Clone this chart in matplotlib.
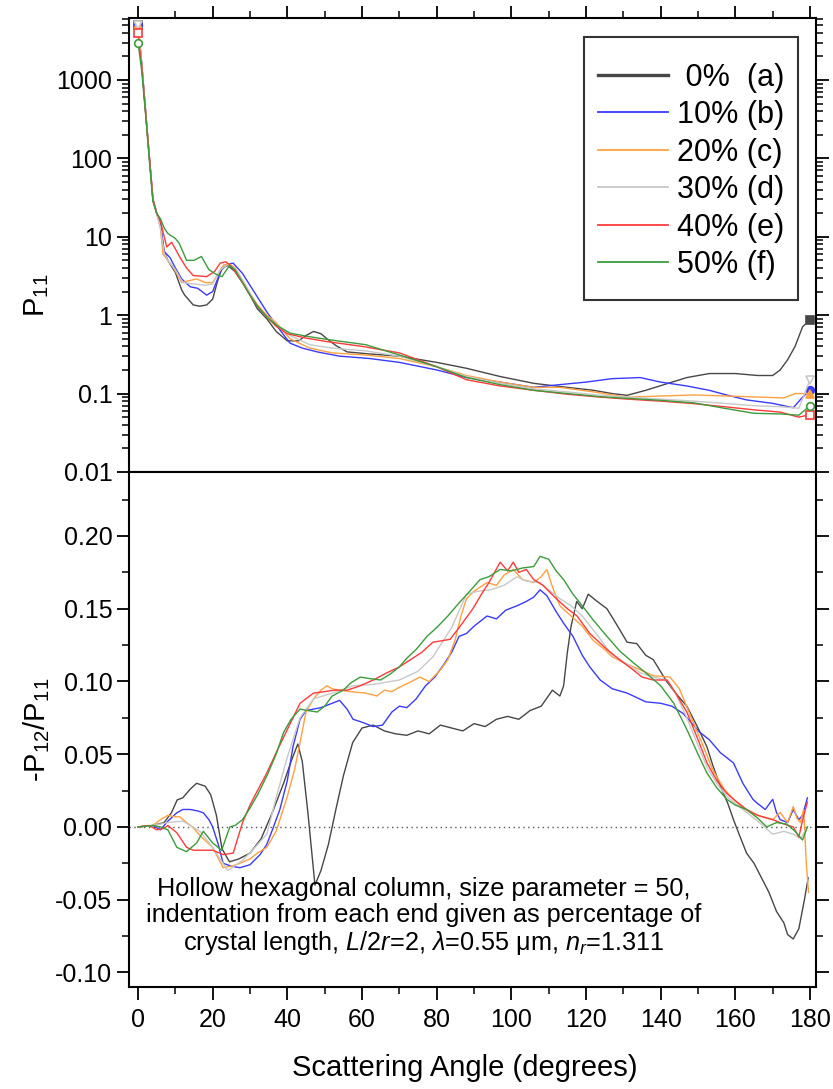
import matplotlib
matplotlib.use('Agg')
import matplotlib.pyplot as plt
from matplotlib.ticker import MultipleLocator, LogLocator, NullFormatter, FuncFormatter, FormatStrFormatter
from matplotlib.lines import Line2D
from matplotlib.patches import Rectangle

plt.rcParams['font.family'] = ['Liberation Sans', 'DejaVu Sans']
plt.rcParams['mathtext.fontset'] = 'custom'
plt.rcParams['mathtext.rm'] = 'Liberation Sans'
plt.rcParams['mathtext.it'] = 'Liberation Sans:italic'

labels = [' 0%  (a)', '10% (b)', '20% (c)', '30% (d)', '40% (e)', '50% (f)']
colors = ['#474747', '#3a3aff', '#ffa040', '#c8c8c8', '#ff3a3a', '#3c9c3c']
markers = ['s', 'o', '^', 'v', 's', 'o']
filled = [True, True, True, False, False, False]

# ---- P11 (log scale), one angle list per indentation ----
p11_ang_a = [0, 1, 2, 3, 4, 5, 6, 7, 8, 10, 11.7, 12.5, 14.8, 16.5, 18.4, 20, 21.2, 22.4, 24, 26, 28, 30, 32,
             34.5, 37, 40, 43, 45, 47, 49, 50.6, 53, 56, 62, 70, 80, 88, 97, 106, 115, 122, 127, 131, 136, 142,
             147, 153, 160, 166, 170, 172, 174, 176, 178, 180]
p11_a = [5000, 1600, 420, 110, 30, 20, 15, 6.5, 5.0, 3.5, 2.1, 1.8, 1.35, 1.3, 1.35, 1.6, 2.6, 4.0, 4.3, 3.6,
         2.6, 1.8, 1.2, 0.9, 0.62, 0.47, 0.47, 0.55, 0.62, 0.58, 0.5, 0.41, 0.34, 0.32, 0.3, 0.25, 0.21, 0.165,
         0.135, 0.12, 0.11, 0.1, 0.095, 0.11, 0.135, 0.16, 0.18, 0.18, 0.17, 0.17, 0.2, 0.27, 0.4, 0.71, 0.87]

p11_ang_b = [0, 1, 2, 3, 4, 5, 6, 7, 8.6, 10, 11.7, 14, 16, 18.4, 20, 21.2, 22.4, 24, 25.5, 28, 30, 32, 34.5,
             37, 40.7, 44, 48, 54, 62, 70, 80, 88, 97, 106, 113, 120, 127, 134.5, 140, 147, 153, 158, 163, 170,
             175.5, 178, 180]
p11_b = [5000, 1600, 420, 110, 30, 20, 14, 6.5, 5.4, 4.0, 2.9, 2.3, 2.2, 1.8, 2.0, 2.8, 3.8, 4.5, 4.6, 3.4,
         2.4, 1.7, 1.1, 0.75, 0.44, 0.38, 0.34, 0.3, 0.28, 0.25, 0.2, 0.16, 0.14, 0.12, 0.13, 0.14, 0.155, 0.16,
         0.14, 0.125, 0.11, 0.095, 0.083, 0.075, 0.066, 0.09, 0.11]

p11_ang_c = [0, 1, 2, 3, 4, 5, 6, 6.7, 8, 9.4, 11.7, 13, 15.7, 18, 20, 21.5, 23, 24.5, 26, 28, 30, 32, 34.5, 37,
             40.7, 46, 52, 61, 70, 80, 88, 97, 106, 113, 122, 131, 140, 149, 158, 167, 173, 176, 180]
p11_c = [5000, 1600, 420, 110, 30, 20, 13, 6, 5, 4.1, 2.6, 2.7, 2.9, 2.6, 2.6, 3.4, 4.4, 4.5, 4.0, 2.8, 1.9,
         1.35, 1.0, 0.8, 0.5, 0.38, 0.33, 0.31, 0.28, 0.22, 0.17, 0.14, 0.12, 0.12, 0.105, 0.09, 0.093, 0.096,
         0.093, 0.09, 0.088, 0.1, 0.1]

p11_ang_d = [0, 1, 2, 3, 4, 5, 6, 7, 8, 10, 12, 15, 18, 20, 22, 24, 26, 28, 30, 32, 34.5, 37, 40.7, 46, 52, 61,
             70, 80, 88, 97, 106, 115, 124, 131, 140, 149, 157, 165, 172, 177, 180]
p11_d = [5000, 1600, 420, 110, 30, 20, 13, 6.2, 5.0, 3.8, 2.6, 2.5, 2.4, 2.5, 3.8, 4.4, 3.9, 2.8, 1.9, 1.3,
         0.95, 0.75, 0.55, 0.42, 0.38, 0.35, 0.3, 0.22, 0.165, 0.135, 0.115, 0.105, 0.095, 0.09, 0.085, 0.08,
         0.075, 0.07, 0.068, 0.065, 0.15]

p11_ang_e = [0, 1, 2, 3, 4, 5, 6, 6.8, 7.7, 9, 10, 11.2, 13, 14.8, 18.4, 20.5, 22, 23.5, 25, 28, 30, 32, 34.5,
             37, 40, 45, 50.6, 60, 70, 80, 88, 97, 106, 115, 124, 131, 140, 148, 157, 165, 172, 177, 180]
p11_e = [4000, 1500, 400, 110, 30, 20, 16, 11, 7.4, 8.5, 7, 5.5, 4, 3.2, 3.1, 3.6, 4.6, 4.8, 4.2, 2.6, 1.8,
         1.3, 0.95, 0.72, 0.58, 0.51, 0.46, 0.4, 0.33, 0.22, 0.15, 0.125, 0.11, 0.098, 0.09, 0.085, 0.08, 0.075,
         0.068, 0.062, 0.058, 0.05, 0.054]

p11_ang_f = [0, 1, 2, 3, 4, 5, 6, 7, 8, 10, 11, 12, 13, 15, 17, 19, 21, 22.5, 24.5, 26, 28, 30, 32, 34.5, 37,
             40.7, 46, 52, 61, 70, 80, 88, 97, 106, 115, 124, 131, 140, 149, 157, 165, 172, 177, 180]
p11_f = [3000, 1300, 380, 100, 28, 20, 17, 13, 11, 9.5, 8.3, 6.5, 5.0, 5.0, 5.6, 3.8, 3.3, 3.1, 4.3, 3.8, 2.6,
         1.8, 1.3, 0.95, 0.75, 0.59, 0.53, 0.48, 0.42, 0.31, 0.22, 0.16, 0.13, 0.11, 0.1, 0.091, 0.087, 0.082,
         0.076, 0.065, 0.056, 0.055, 0.053, 0.07]

# ---- -P12/P11 ----
pol_ang_a = [0, 4, 7, 9, 10.5, 12, 14, 15.7, 18, 19.5, 21, 22.5, 24.5, 27, 30, 33, 36, 39, 41, 42.8, 44, 45.5,
             47.4, 49, 51, 53, 55, 57.5, 60, 63, 66, 69, 72, 75, 78, 81, 84, 87, 90, 93, 96, 99, 102, 105, 108,
             111, 113, 114, 115, 116, 117.5, 119, 120.6, 123, 125.6, 128, 131, 133.6, 136, 138, 141.6, 144, 147,
             150, 152.4, 154, 156, 158, 159.5, 161, 163, 165, 167, 169, 171, 173, 174, 175.5, 177, 178.5, 179.5]
pol_a = [0, 0.001, 0.003, 0.010, 0.0186, 0.020, 0.026, 0.030, 0.028, 0.022, 0.008, -0.015, -0.024, -0.022,
         -0.018, -0.008, 0.010, 0.030, 0.045, 0.057, 0.045, 0.010, -0.040, -0.030, -0.012, 0.012, 0.035, 0.058,
         0.068, 0.070, 0.066, 0.064, 0.063, 0.066, 0.064, 0.070, 0.068, 0.066, 0.071, 0.069, 0.074, 0.076, 0.074,
         0.080, 0.083, 0.094, 0.090, 0.097, 0.120, 0.138, 0.155, 0.150, 0.160, 0.155, 0.150, 0.140, 0.127, 0.126,
         0.118, 0.115, 0.100, 0.092, 0.083, 0.068, 0.055, 0.042, 0.028, 0.016, 0.005, -0.005, -0.018, -0.025,
         -0.035, -0.045, -0.058, -0.066, -0.074, -0.077, -0.070, -0.050, -0.035]

pol_ang_b = [0, 4, 6, 8, 10.4, 12, 14, 16, 17.5, 19, 20, 21.5, 22.8, 25, 27.3, 30, 32.7, 34.5, 36, 38, 40, 41.5,
             43.4, 45, 47, 49, 52, 54, 56, 57.6, 60, 63, 65.5, 68, 70, 72, 74.5, 77, 79.5, 82, 84, 86, 88, 90, 93.5,
             96, 98.5, 101.5, 104, 106, 107.7, 109.5, 112, 114, 116.5, 119, 121, 123.8, 127, 131, 136, 140, 143,
             146, 150.5, 153, 156, 159.5, 162, 164.7, 166, 168, 170, 171, 172, 174, 175.5, 177, 178, 179.3]
pol_b = [0, 0.001, -0.002, 0.004, 0.0097, 0.012, 0.012, 0.011, 0.0097, 0.005, 0, -0.012, -0.025, -0.027,
         -0.028, -0.026, -0.019, -0.012, -0.002, 0.012, 0.032, 0.055, 0.074, 0.080, 0.081, 0.082, 0.085, 0.087,
         0.081, 0.074, 0.072, 0.069, 0.070, 0.079, 0.083, 0.082, 0.088, 0.097, 0.103, 0.112, 0.120, 0.131, 0.133,
         0.138, 0.145, 0.143, 0.149, 0.152, 0.155, 0.158, 0.163, 0.159, 0.148, 0.140, 0.131, 0.118, 0.110, 0.101,
         0.095, 0.092, 0.086, 0.085, 0.083, 0.078, 0.065, 0.060, 0.051, 0.044, 0.030, 0.019, 0.016, 0.012, 0.019,
         0.010, 0.005, 0.003, 0.012, 0.005, 0.008, 0.020]

pol_ang_c = [0, 4, 6, 8, 10, 11.2, 13, 14.6, 17, 20, 22.8, 25, 27.3, 30, 32, 34.5, 37, 40, 42, 43.4, 45, 47, 49,
             50.6, 52, 54, 57, 61, 64, 66, 68, 70, 72.5, 75.5, 78, 81, 83, 85, 86.5, 88, 90, 93.5, 96, 98, 100.5,
             103, 106, 108, 109.5, 111, 113, 116, 119, 122, 125, 127, 130, 134.5, 138, 142.5, 145, 148.7, 151, 154,
             157, 159.5, 162, 164.7, 167, 170, 172, 174, 175.5, 176.5, 177.4, 178.3, 179, 179.6]
pol_c = [0, 0.001, 0.005, 0.008, 0.007, 0.007, 0.003, 0.0, -0.007, -0.014, -0.028, -0.027, -0.025, -0.022,
         -0.018, -0.014, -0.003, 0.021, 0.040, 0.058, 0.079, 0.088, 0.094, 0.097, 0.095, 0.094, 0.093, 0.092,
         0.090, 0.094, 0.093, 0.096, 0.099, 0.103, 0.100, 0.108, 0.115, 0.129, 0.145, 0.157, 0.162, 0.168, 0.166,
         0.173, 0.177, 0.170, 0.168, 0.172, 0.177, 0.165, 0.152, 0.145, 0.138, 0.128, 0.122, 0.117, 0.113, 0.108,
         0.104, 0.103, 0.095, 0.072, 0.058, 0.039, 0.026, 0.019, 0.013, 0.009, 0.007, 0.005, 0.010, 0.003, 0.014,
         0.006, 0.003, 0.012, -0.025, -0.045]

pol_ang_d = [0, 4, 8, 12, 16.6, 20, 24, 28, 31, 34.5, 37, 40, 43.4, 47, 52, 57.6, 63, 70, 75, 79, 84, 88, 91,
             94.5, 98, 101.5, 104, 107.7, 110, 113, 116, 119, 123, 127, 131, 134.5, 138, 141.7, 144, 147, 150,
             152.4, 155, 157.7, 160, 163, 166, 170, 173, 175.5, 177.5, 179.3]
pol_d = [0, 0.001, 0.003, 0.004, -0.003, -0.014, -0.030, -0.023, -0.015, -0.005, 0.020, 0.048, 0.075, 0.088,
         0.092, 0.097, 0.098, 0.101, 0.107, 0.117, 0.137, 0.160, 0.162, 0.163, 0.166, 0.172, 0.169, 0.168, 0.163,
         0.157, 0.152, 0.145, 0.132, 0.118, 0.112, 0.106, 0.103, 0.101, 0.092, 0.075, 0.056, 0.041, 0.030, 0.021,
         0.016, 0.010, 0.004, -0.005, -0.003, -0.005, -0.008, 0.0]

pol_ang_e = [0, 3, 5, 7, 8, 10.4, 13, 14.8, 17, 20, 22.8, 25.5, 28, 30, 32, 34.5, 37, 40, 43.4, 47, 50, 52.6, 56,
             59.5, 63, 66.7, 70, 73, 76, 79, 81.5, 83.6, 86, 89.7, 92, 94, 97, 99, 100.5, 102, 104, 106, 108.5, 112,
             115, 117.6, 121, 125.6, 129, 132.6, 135, 138, 141.7, 144, 147, 150, 152.4, 155, 157.7, 160, 163, 166,
             170, 173, 175.5, 177, 178.3, 179.3]
pol_e = [0, 0.001, -0.002, -0.001, 0.001, -0.004, -0.014, -0.016, -0.016, -0.016, -0.019, -0.018, 0.003, 0.015,
         0.025, 0.037, 0.051, 0.067, 0.085, 0.092, 0.093, 0.094, 0.094, 0.097, 0.101, 0.106, 0.110, 0.115, 0.120,
         0.127, 0.128, 0.129, 0.137, 0.150, 0.160, 0.168, 0.182, 0.176, 0.182, 0.175, 0.177, 0.170, 0.166, 0.157,
         0.150, 0.145, 0.133, 0.122, 0.115, 0.108, 0.103, 0.101, 0.101, 0.092, 0.079, 0.060, 0.044, 0.032, 0.023,
         0.018, 0.012, 0.008, 0.005, 0.002, 0.0, -0.007, 0.008, 0.017]

pol_ang_f = [0, 4, 6, 8, 10.4, 13, 15.7, 17.5, 20, 22.4, 24.6, 26, 28, 30, 32, 34.5, 37, 39, 41, 43.4, 45.5, 48,
             50, 52, 55, 57, 59.5, 62, 65, 67.5, 70, 72, 74.5, 77.4, 80, 83, 86, 88.5, 91.6, 94, 97, 100, 103, 106,
             107.7, 110, 112, 114, 116.5, 119, 122, 125.6, 129, 132.6, 136, 140, 143.5, 147, 150, 152.4, 155, 157.7,
             160, 163, 166, 168.4, 171, 173.7, 176, 178, 179.3]
pol_f = [0, 0.001, 0.0, -0.002, -0.014, -0.017, -0.011, -0.003, -0.011, -0.016, 0.0, 0.001, 0.005, 0.013, 0.022,
         0.035, 0.050, 0.065, 0.074, 0.081, 0.080, 0.079, 0.083, 0.090, 0.094, 0.099, 0.103, 0.102, 0.101, 0.105,
         0.110, 0.116, 0.122, 0.131, 0.137, 0.145, 0.154, 0.161, 0.170, 0.172, 0.177, 0.176, 0.178, 0.179, 0.186,
         0.184, 0.176, 0.170, 0.160, 0.152, 0.142, 0.131, 0.121, 0.113, 0.106, 0.097, 0.085, 0.067, 0.050, 0.037,
         0.027, 0.019, 0.015, 0.012, 0.006, 0.0, 0.003, 0.002, -0.003, -0.009, 0.0]

p11_angles = [p11_ang_a, p11_ang_b, p11_ang_c, p11_ang_d, p11_ang_e, p11_ang_f]
p11_vals = [p11_a, p11_b, p11_c, p11_d, p11_e, p11_f]
pol_angles = [pol_ang_a, pol_ang_b, pol_ang_c, pol_ang_d, pol_ang_e, pol_ang_f]
pol_vals = [pol_a, pol_b, pol_c, pol_d, pol_e, pol_f]

fig = plt.figure(figsize=(8.33, 10.89), dpi=100)
ax1 = fig.add_axes([0.1549, 0.5666, 0.8247, 0.4169])
ax2 = fig.add_axes([0.1549, 0.0937, 0.8247, 0.4729])

# upper panel: phase function with end markers
for ang, val, c, m, f in zip(p11_angles, p11_vals, colors, markers, filled):
    ax1.plot(ang, val, color=c, lw=1.0, marker=m, markevery=[0, len(ang) - 1], ms=5.5,
             mfc=c if f else 'white', mec=c, mew=1.2)
ax1.set_yscale('log')
ax1.set_ylim(0.01, 6170)
ax1.yaxis.set_major_locator(LogLocator(base=10, numticks=15))
ax1.yaxis.set_minor_locator(LogLocator(base=10, subs=range(2, 10), numticks=15))
ax1.yaxis.set_minor_formatter(NullFormatter())
ax1.yaxis.set_major_formatter(FuncFormatter(lambda v, p: f'{v:g}'))

# lower panel: degree of linear polarization
ax2.axhline(0, color='#555555', lw=1.0, ls=(0, (1, 2.5)), zorder=1)
for ang, val, c in zip(pol_angles, pol_vals, colors):
    ax2.plot(ang, val, color=c, lw=1.0)
ax2.set_ylim(-0.11, 0.244)
ax2.yaxis.set_major_locator(MultipleLocator(0.05))
ax2.yaxis.set_minor_locator(MultipleLocator(0.025))
ax2.yaxis.set_major_formatter(FormatStrFormatter('%.2f'))

for ax in (ax1, ax2):
    ax.set_xlim(-2.4, 181.6)
    ax.xaxis.set_major_locator(MultipleLocator(20))
    ax.xaxis.set_minor_locator(MultipleLocator(10))
    for s in ax.spines.values():
        s.set_linewidth(1.5)
    ax.tick_params(which='both', direction='out', right=True, labelsize=18, pad=3)
    ax.tick_params(which='major', length=9, width=1.3)
    ax.tick_params(which='minor', length=5, width=1.1)

ax1.tick_params(which='both', top=True, bottom=True, labelbottom=False)
ax2.tick_params(which='both', top=False, bottom=True)
ax2.tick_params(axis='x', pad=6)

# legend entries without frame, box drawn separately
ax1.add_patch(Rectangle((0.6623, 0.3789), 0.9738 - 0.6623, 0.9581 - 0.3789, transform=ax1.transAxes,
                        facecolor='white', edgecolor='#333333', lw=1.5, zorder=4))
handles = [Line2D([], [], color=c, lw=2.4 if i == 0 else 1.3) for i, c in enumerate(colors)]
leg = ax1.legend(handles, labels, loc='upper left', bbox_to_anchor=(0.6827, 0.9016), fontsize=22,
                 frameon=False, handlelength=2.29, handletextpad=0.3, labelspacing=0.245,
                 borderpad=0, borderaxespad=0)
leg.set_zorder(5)

ax2.text(76.6, -0.062, 'Hollow hexagonal column, size parameter = 50,\n'
         'indentation from each end given as percentage of\n'
         'crystal length, $L$/2$r$=2, $\\lambda$=0.55 \u03bcm, $n_r$=1.311',
         ha='center', va='center', fontsize=18.2, linespacing=1.1)

fig.text(37 / 833, 1 - 295 / 1089, 'P$_{11}$', rotation=90, ha='center', va='center', fontsize=21)
fig.text(37 / 833, 1 - 730 / 1089, '-P$_{12}$/P$_{11}$', rotation=90, ha='center', va='center', fontsize=21)
fig.text(465 / 833, 1 - 1068 / 1089, 'Scattering Angle (degrees)', ha='center', va='center', fontsize=21)

fig.savefig('out.png', dpi=100)
